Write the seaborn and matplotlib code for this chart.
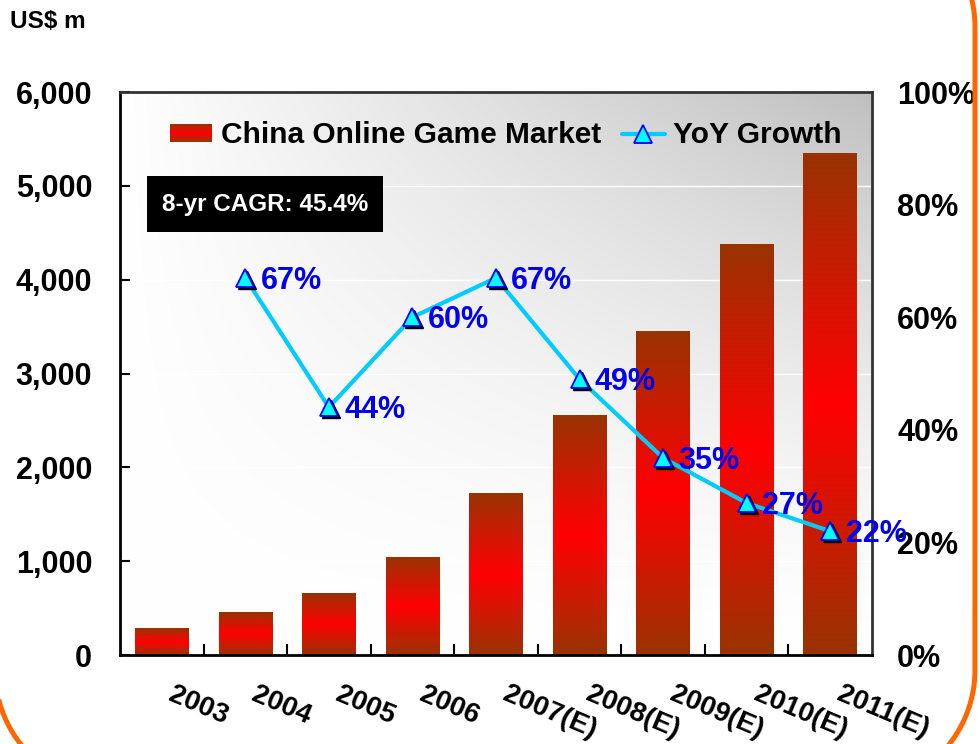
import numpy as np
import pandas as pd
import matplotlib
matplotlib.use("Agg")
import matplotlib.pyplot as plt
import matplotlib.transforms as mtrans
from matplotlib.colors import LinearSegmentedColormap
from matplotlib.patches import Rectangle
from matplotlib.legend_handler import HandlerBase
from matplotlib.lines import Line2D
import seaborn as sns

# ---------------- data ----------------
years = ["2003", "2004", "2005", "2006", "2007(E)", "2008(E)", "2009(E)", "2010(E)", "2011(E)"]
market = [285, 455, 660, 1040, 1725, 2555, 3450, 4380, 5350]
growth_years = ["2004", "2005", "2006", "2007(E)", "2008(E)", "2009(E)", "2010(E)", "2011(E)"]
growth = [67, 44, 60, 67, 49, 35, 27, 22]
left_ticks = [0, 1000, 2000, 3000, 4000, 5000, 6000]
right_ticks = [0, 20, 40, 60, 80, 100]
bar_label = "China Online Game Market"
line_label = "YoY Growth"
unit_label = "US$ m"
cagr_text = "8-yr CAGR: 45.4%"

# ---------------- style ----------------
sns.set_theme(style="white")
plt.rcParams["font.family"] = ["Liberation Sans", "DejaVu Sans"]
plt.rcParams["font.weight"] = "bold"
plt.rcParams["text.color"] = "black"
plt.rcParams["axes.labelcolor"] = "black"
plt.rcParams["xtick.color"] = "black"
plt.rcParams["ytick.color"] = "black"

DARK = "#993300"
RED = "#FF0000"
LINE = "#00CCFF"
MFC = "#00FFFF"
MEC = "#0000FF"
LBL = "#0000EE"
cmap = LinearSegmentedColormap.from_list("bar", [DARK, RED])

W, H = 980, 744
fig = plt.figure(figsize=(W / 100, H / 100), dpi=100)
fig.patch.set_facecolor("white")
ax = fig.add_axes([0.1224, 0.1196, 0.7674, 0.7567])

# background gradient of the plot area
xx = np.linspace(0, 1, 200)
yy = np.linspace(0, 1, 200)
X, Y = np.meshgrid(xx, yy)
G = 1 - 0.25 * X * Y ** 1.5
ax.imshow(np.dstack([G, G, G]), extent=[0, 1, 0, 1], transform=ax.transAxes,
          origin="lower", aspect="auto", zorder=0.1)

df = pd.DataFrame({"year": years, "market": market})
sns.barplot(data=df, x="year", y="market", color=RED, width=0.64,
            saturation=1, ax=ax, zorder=2)

col = 1 - np.abs(np.linspace(-1, 1, 101))
for p in ax.patches:
    x0, w, h = p.get_x(), p.get_width(), p.get_height()
    p.set_facecolor("none")
    p.set_edgecolor("none")
    ax.imshow(col[:, None], cmap=cmap, vmin=0, vmax=1, extent=[x0, x0 + w, 0, h],
              origin="lower", aspect="auto", interpolation="bilinear", zorder=2)

ax.set_xlim(-0.5, len(years) - 0.5)
ax.set_ylim(0, 6000)
ax.set_xlabel("")
ax.set_ylabel("")
ax.set_yticks(left_ticks)
ax.set_yticklabels([f"{v:,}" for v in left_ticks])
ax.yaxis.grid(True, color="white", lw=1)
ax.set_axisbelow(True)
ax.tick_params(axis="y", direction="in", length=7, width=1.5, pad=20, labelsize=22,
               left=True, color="black", labelcolor="black")
ax.set_xticks(range(len(years)))
ax.set_xticklabels(years, rotation=-23, ha="left", va="top", rotation_mode="anchor",
                   fontsize=20)
ax.set_xticks(np.arange(0.5, len(years) - 0.5, 1), minor=True)
ax.tick_params(axis="x", which="major", direction="in", length=5, width=1.5, pad=19,
               bottom=True, color="black", labelcolor="black")
ax.tick_params(axis="x", which="minor", direction="in", length=8, width=1.5,
               bottom=True, color="black")
off = mtrans.ScaledTranslation(13 / 100, 0, fig.dpi_scale_trans)
for lbl in ax.get_xticklabels():
    lbl.set_transform(lbl.get_transform() + off)
for side in ["left", "bottom"]:
    ax.spines[side].set_color("black")
    ax.spines[side].set_linewidth(2)
for side in ["top", "right"]:
    ax.spines[side].set_color("#333333")
    ax.spines[side].set_linewidth(2)
    ax.spines[side].set_visible(True)

# secondary axis: growth
ax2 = ax.twinx()
ax2.set_ylim(0, 100)
ax2.set_yticks(right_ticks)
ax2.set_yticklabels([f"{t}%" for t in right_ticks])
ax2.tick_params(axis="y", length=0, pad=18, labelsize=22, labelcolor="black")
for s in ax2.spines.values():
    s.set_visible(False)

gx = [years.index(y) for y in growth_years]
sns.lineplot(x=gx, y=growth, ax=ax2, color=LINE, lw=3, zorder=3)
shadow = mtrans.ScaledTranslation(2 / 100, -2 / 100, fig.dpi_scale_trans)
ax2.plot(gx, growth, ls="none", marker="^", ms=13, color="black",
         transform=ax2.transData + shadow, zorder=3.5)
ax2.plot(gx, growth, ls="none", marker="^", ms=13, mfc=MFC, mec=MEC, mew=1.3, zorder=4)
for x, g in zip(gx, growth):
    ax2.annotate(f"{g}%", (x, g), xytext=(11, -2), textcoords="offset points",
                 ha="left", va="center", fontsize=22, color=LBL, zorder=5,
                 annotation_clip=False)
ax2.set_xlim(-0.5, len(years) - 0.5)


# legend with gradient bar handle
class GradHandler(HandlerBase):
    def create_artists(self, legend, orig_handle, xdescent, ydescent, width, height,
                       fontsize, trans):
        arts = []
        n = 24
        for i in range(n):
            t = (i + 0.5) / n
            c = cmap(1 - abs(2 * t - 1))
            arts.append(Rectangle((-xdescent, -ydescent + i * height / n), width,
                                  height / n * 1.05, facecolor=c, lw=0, transform=trans))
        return arts


bar_proxy = Rectangle((0, 0), 1, 1)
line_proxy = Line2D([], [], color=LINE, lw=3, marker="^", ms=13, mfc=MFC, mec=MEC, mew=1.3)
leg = ax2.legend([bar_proxy, line_proxy], [bar_label, line_label],
                 handler_map={Rectangle: GradHandler()}, ncol=2, frameon=False,
                 loc="center left", bbox_to_anchor=(0.066, 0.923), borderpad=0,
                 borderaxespad=0, fontsize=21.5, handlelength=1.42, handleheight=0.55,
                 handletextpad=0.3, columnspacing=0.7, labelcolor="black")

# CAGR box
ax2.add_patch(Rectangle((0.036, 0.751), 0.314, 0.10, transform=ax2.transAxes,
                        facecolor="black", edgecolor="none", zorder=6))
ax2.text(0.193, 0.801, cagr_text, transform=ax2.transAxes, color="white",
         fontsize=17.5, ha="center", va="center", zorder=7)

fig.text(10 / W, 1 - 21 / H, unit_label, fontsize=17.5, ha="left", va="center",
         color="black")

# orange rounded frame (pixel geometry -> figure fraction)
left, right, top, bottom, r = -5, 975, -93, 790, 120
corners = [((right - r, top + r), -90, 0), ((right - r, bottom - r), 0, 90),
           ((left + r, bottom - r), 90, 180), ((left + r, top + r), 180, 270)]
px, py = [], []
for (cx, cy), a0, a1 in corners:
    th = np.radians(np.linspace(a0, a1, 60))
    px.extend(cx + r * np.cos(th))
    py.extend(cy + r * np.sin(th))
px.append(px[0])
py.append(py[0])
fig.add_artist(Line2D(np.array(px) / W, 1 - np.array(py) / H, transform=fig.transFigure,
                      color="#FF6600", lw=3.6, solid_joinstyle="round", clip_on=False))

fig.savefig("out.png", dpi=100)
